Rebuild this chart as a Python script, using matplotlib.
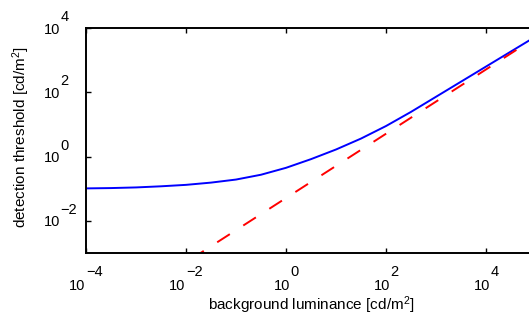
import numpy as np
import matplotlib
matplotlib.use("Agg")
import matplotlib.pyplot as plt

plt.rcParams['font.family'] = ['Liberation Sans', 'DejaVu Sans']
plt.rcParams['mathtext.fontset'] = 'custom'
plt.rcParams['mathtext.rm'] = 'Liberation Sans'
plt.rcParams['mathtext.it'] = 'Liberation Sans:italic'
plt.rcParams['lines.scale_dashes'] = False

# ---- data (log10 values) ----
lum_log = [-4.0, -3.5, -3.0, -2.5, -2.0, -1.5, -1.0, -0.5, 0.0, 0.5,
           1.0, 1.5, 2.0, 2.5, 3.0, 3.5, 4.0, 4.5, 5.0]
thr_log = [-0.99, -0.98, -0.96, -0.925, -0.88, -0.81, -0.715, -0.565, -0.35, -0.08,
           0.22, 0.56, 0.95, 1.39, 1.86, 2.33, 2.80, 3.27, 3.74]
weber_lum_log = [-4.0, 5.0]
weber_thr_log = [-5.29, 3.71]

x_tick_exps = [-4, -2, 0, 2, 4]
y_tick_exps = [-2, 0, 2, 4]
xlabel = "background luminance [cd/m$^{2}$]"
ylabel = "detection threshold [cd/m$^{2}$]"

W, H = 529, 325
fig = plt.figure(figsize=(W / 100, H / 100), dpi=100)
ax = fig.add_axes([86 / W, 72 / H, 450 / W, 225 / H])

ax.plot(10.0 ** np.array(lum_log), 10.0 ** np.array(thr_log), color=(0, 0, 1), lw=1.4)
ln, = ax.plot(10.0 ** np.array(weber_lum_log), 10.0 ** np.array(weber_thr_log),
              color=(1, 0, 0), lw=1.4)
ln.set_dashes((10.8, 11.5))

ax.set_xscale('log')
ax.set_yscale('log')
ax.set_xlim(1e-4, 1e5)
ax.set_ylim(1e-3, 1e4)
ax.set_xticks([10.0 ** e for e in x_tick_exps])
ax.set_yticks([10.0 ** e for e in y_tick_exps])
ax.minorticks_off()
ax.tick_params(which='both', direction='in', top=True, right=True, length=3.6,
               width=1.0, labelbottom=False, labelleft=False)
for s in ax.spines.values():
    s.set_linewidth(1.4)

fs = 10.5


def fexp(e):
    return ("\u2212" + str(-e)) if e < 0 else str(e)


fig.canvas.draw()
r = fig.canvas.get_renderer()

# x tick labels: whole "10^e" centred on the tick
for e in x_tick_exps:
    tx = ax.transData.transform((10.0 ** e, 1.0))[0]
    t10 = fig.text(0, 0, "10", fontsize=fs, ha='left', va='baseline')
    te = fig.text(0, 0, fexp(e), fontsize=fs, ha='left', va='baseline')
    w10 = t10.get_window_extent(r).width
    we = te.get_window_extent(r).width
    gap = 0.5
    left = tx - (w10 + gap + we) / 2
    t10.set_position((left / W, (H - 289.5) / H))
    te.set_position(((left + w10 + gap) / W, (H - 276.0) / H))

# y tick labels: "10" right-aligned at fixed x, exponent after it
for e in y_tick_exps:
    ty = ax.transData.transform((1.0, 10.0 ** e))[1]
    ytop = H - ty
    fig.text(59.8 / W, (H - (ytop + 5.5)) / H, "10", fontsize=fs, ha='right', va='baseline')
    fig.text(60.5 / W, (H - (ytop - 7.0)) / H, fexp(e), fontsize=fs, ha='left', va='baseline')

fig.text(311 / W, (H - 310) / H, xlabel, fontsize=11, ha='center', va='baseline')
fig.text(21 / W, (H - 137) / H, ylabel, fontsize=11, ha='center', va='center', rotation=90)

fig.savefig('out.png', dpi=100)
